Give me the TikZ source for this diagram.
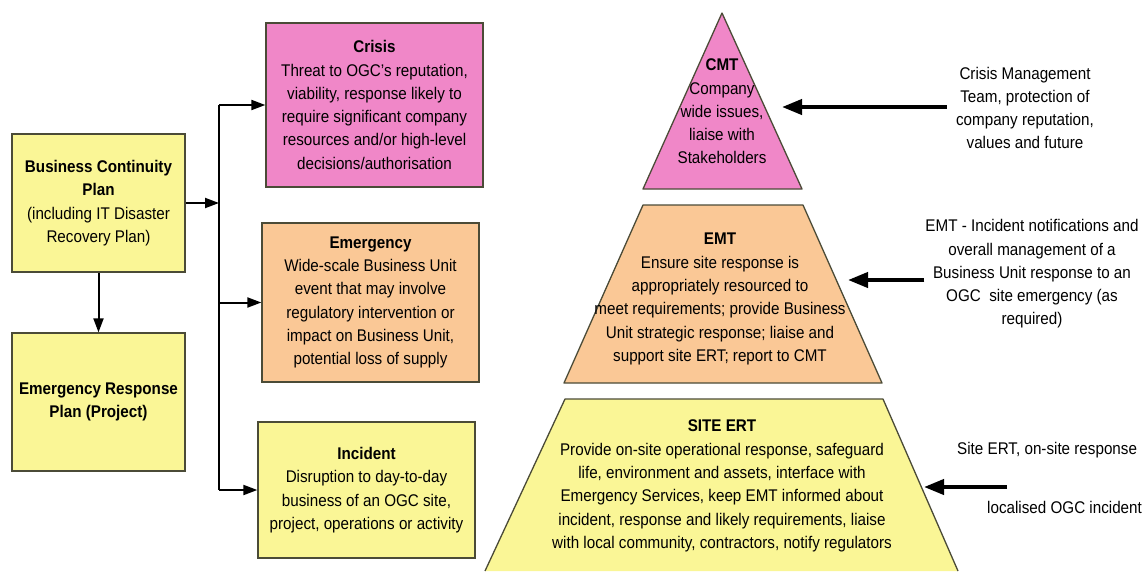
\documentclass[tikz,border=0pt]{standalone}
\usepackage{fontspec}
\setmainfont{Liberation Sans}[FakeStretch=0.9]
\usetikzlibrary{arrows.meta}
\definecolor{planyellow}{RGB}{250, 246, 150}
\definecolor{crisispink}{RGB}{240, 135, 200}
\definecolor{emerorange}{RGB}{250, 200, 150}
\definecolor{boxline}{RGB}{75, 75, 55}

\begin{document}
\begin{tikzpicture}[x=1pt, y=-1pt,
    font=\fontsize{16.9}{23.3}\selectfont,
    box/.style={draw=boxline, line width=1.3pt, align=center, inner sep=0pt},
    level/.style={draw=boxline, line width=1.3pt, line join=round},
    pyrtext/.style={align=center, inner sep=0pt},
    note/.style={align=center, inner sep=1pt},
    arr/.style={line width=2pt, -{Triangle[length=14pt, width=10pt]}},
    bigarr/.style={line width=4pt, -{Triangle[length=20pt, width=15pt]}}]
                    \useasboundingbox (0,0) rectangle (1143,571);

                    % Plans
                    \node[box, fill=planyellow, minimum width=173pt, minimum height=138pt] (bcp) at (98.5,203)
                        {\textbf{Business Continuity}\\\textbf{Plan}\\(including IT Disaster\\Recovery Plan)};
                    \node[box, fill=planyellow, minimum width=173pt, minimum height=138pt] (erp) at (98.5,402)
                        {\textbf{Emergency Response}\\\textbf{Plan (Project)}};

                    % Event levels
                    \node[box, fill=crisispink, minimum width=217pt, minimum height=164pt] (crisis) at (374.5,105)
                        {\textbf{Crisis}\\Threat to OGC's reputation,\\viability, response likely to\\require significant company\\resources and/or high-level\\decisions/authorisation};
                    \node[box, fill=emerorange, minimum width=217pt, minimum height=159pt] (emerg) at (370.5,302.5)
                        {\textbf{Emergency}\\Wide-scale Business Unit\\event that may involve\\regulatory intervention or\\impact on Business Unit,\\potential loss of supply};
                    \node[box, fill=planyellow, minimum width=217pt, minimum height=136pt] (incid) at (366.5,490)
                        {\textbf{Incident}\\Disruption to day-to-day\\business of an OGC site,\\project, operations or activity};

                    % Pyramid
                    \filldraw[level, fill=crisispink] (722,13) -- (802,189) -- (643,189) -- cycle;
                    \filldraw[level, fill=emerorange] (643,205) -- (803,205) -- (882,383) -- (564,383) -- cycle;
                    \fill[planyellow] (565,399) -- (883,399) -- (958,571) -- (485,571) -- cycle;
                    \draw[level] (485,571) -- (565,399) -- (883,399) -- (958,571);
                    \node[pyrtext] (cmt) at (722,111.5)
                        {\textbf{CMT}\\Company\\wide issues,\\liaise with\\Stakeholders};
                    \node[pyrtext] (emt) at (720,299)
                        {\textbf{EMT}\\Ensure site response is\\appropriately resourced to\\meet requirements; provide Business\\Unit strategic response; liaise and\\support site ERT; report to CMT};
                    \node[pyrtext] (ert) at (722,486)
                        {\textbf{SITE ERT}\\Provide on-site operational response, safeguard\\life, environment and assets, interface with\\Emergency Services, keep EMT informed about\\incident, response and likely requirements, liaise\\with local community, contractors, notify regulators};

                    % Team notes
                    \node[note, inner sep=9pt] (cmttxt) at (1025,108)
                        {Crisis Management\\Team, protection of\\company reputation,\\values and future};
                    \node[note] (emttxt) at (1032,274)
                        {EMT - Incident notifications and\\overall management of a\\Business Unit response to an\\OGC\ \ site emergency (as\\required)};
                    \node[anchor=west, inner sep=0pt] (erttxt) at (957,450) {Site ERT, on-site response};
                    \node[anchor=west, inner sep=0pt] (ertloc) at (987,507) {localised OGC incident};

                    % Free ends
                    \coordinate (spine) at (219,203);
                    \coordinate (cmtedge) at (782,107);
                    \coordinate (emtedge) at (848,280);
                    \coordinate (ertedge) at (924,487);
                    \coordinate (ertsrc) at (1007,487);

                    % Plan connectors
                    \draw[arr] (bcp.south) -- (erp.north);
                    \draw[arr] (bcp.east) -- (spine);
                    \draw[line width=2pt] (crisis.west -| spine) -- (incid.west -| spine);
                    \draw[arr] (crisis.west -| spine) -- (crisis.west);
                    \draw[arr] (emerg.west -| spine) -- (emerg.west);
                    \draw[arr] (incid.west -| spine) -- (incid.west);

                    % Team arrows
                    \draw[bigarr] (cmttxt.west |- cmtedge) -- (cmtedge);
                    \draw[bigarr] (emttxt.west |- emtedge) -- (emtedge);
                    \draw[bigarr] (ertsrc) -- (ertedge);
                \end{tikzpicture}
\end{document}
